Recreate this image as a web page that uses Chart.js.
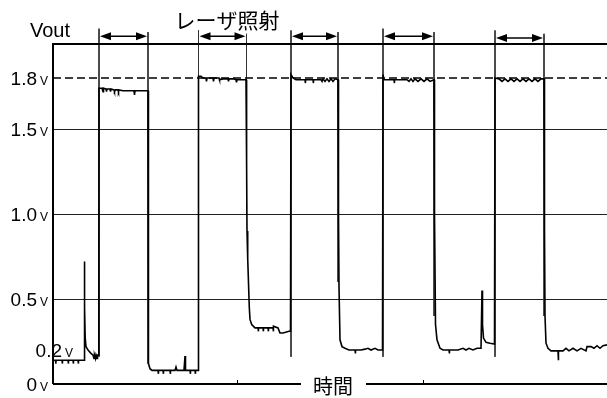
<!DOCTYPE html>
<html>
<head>
<meta charset="utf-8">
<script src="https://cdn.jsdelivr.net/npm/chart.js@4.4.0/dist/chart.umd.min.js"></script>
<style>
  html, body { margin: 0; padding: 0; background: #fff; }
  #wrap { width: 607px; height: 398px; }
</style>
</head>
<body>
<div id="wrap"><canvas id="voutChart"></canvas></div>
<script>
// Output voltage trace (time in arbitrary units, volts)
const waveTime = [
  0, 0.25, 0.28, 0.31, 0.9, 0.93, 0.96, 1.5, 1.53, 1.56, 2.0, 2.03, 2.06, 2.5, 2.53, 2.56, 3.1,
  3.13, 3.18, 3.22, 3.3, 3.5, 3.8, 4.0, 4.1, 4.15, 4.25, 4.3, 4.4, 4.45, 4.58,
  4.6, 4.9, 5.0, 5.05, 5.3, 5.35, 5.4, 5.7, 5.75, 5.8, 6.1, 6.15, 6.25, 6.5, 6.55, 6.6, 7.0, 8.1, 8.15, 8.2, 9.5,
  9.53, 9.56, 9.7, 9.9, 10.5, 10.53, 10.56, 11.0, 11.03, 11.06, 11.7, 11.73, 11.76, 12.2, 12.3, 12.4,
  13.1, 13.2, 13.25, 13.7, 13.73, 13.76, 14.2, 14.23, 14.26, 14.5,
  14.55, 14.8, 15.0, 15.3, 15.35, 15.4, 16.0, 16.05, 16.1, 16.6, 16.65, 17.0, 17.5, 17.55, 17.6, 18.0, 18.3, 18.35, 18.4, 19.3,
  19.35, 19.37, 19.4, 19.47, 19.63, 19.7, 19.87, 20.2, 20.5, 20.53, 20.56, 21.0, 21.03, 21.06, 21.5, 21.53, 21.56,
  22.0, 22.03, 22.06, 22.5, 22.7, 23.0, 23.6, 23.75,
  23.8, 24.0, 24.3, 25.2, 25.23, 25.26, 26.0, 26.03, 26.06, 26.8, 26.9, 27.0, 27.2, 27.4, 27.6, 27.8, 28.0, 28.2, 28.5,
  28.55, 28.6, 28.7, 28.9, 29.2, 29.6, 30.0, 30.2, 30.23, 30.26, 30.8, 31.2, 31.5, 31.8, 32.2, 32.5, 32.95,
  33.0, 33.1, 34.1, 34.13, 34.16, 35.4, 35.6, 35.8, 36.0, 36.2, 36.5, 36.8, 37.1, 37.4, 37.7, 38.1,
  38.15, 38.25, 38.4, 38.7, 39.0, 39.6, 39.63, 39.66, 40.5, 41.0, 41.3, 41.6, 42.0, 42.4, 42.8,
  42.85, 42.9, 42.95, 43.05, 43.3, 43.7, 44.15,
  44.2, 44.6, 44.9, 45.2, 45.5, 45.8, 46.1, 46.4, 46.7, 47.0, 47.3, 47.6, 47.9, 48.2, 48.5, 48.8, 49.1,
  49.15, 49.2, 49.3, 49.5, 49.8, 50.5, 50.53, 50.56, 51.0, 51.3, 51.6, 52.0, 52.4, 52.8, 53.3, 53.4,
  53.8, 54.1, 54.4, 54.7, 55.0, 55.4
];
const waveVolt = [
  0.14, 0.14, 0.12, 0.14, 0.14, 0.12, 0.14, 0.14, 0.12, 0.14, 0.14, 0.12, 0.14, 0.14, 0.12, 0.14, 0.14,
  0.72, 0.45, 0.27, 0.22, 0.2, 0.18, 0.17, 0.15, 0.17, 0.15, 0.17, 0.15, 0.17, 0.17,
  1.74, 1.74, 1.72, 1.74, 1.735, 1.72, 1.735, 1.735, 1.72, 1.735, 1.73, 1.72, 1.73, 1.73, 1.72, 1.73, 1.725, 1.725, 1.70, 1.725, 1.725,
  0.5, 0.12, 0.09, 0.08, 0.08, 0.06, 0.08, 0.08, 0.06, 0.08, 0.08, 0.06, 0.08, 0.08, 0.10, 0.08,
  0.08, 0.165, 0.08, 0.08, 0.06, 0.08, 0.08, 0.06, 0.08, 0.08,
  1.81, 1.81, 1.80, 1.80, 1.78, 1.80, 1.80, 1.78, 1.80, 1.80, 1.79, 1.795, 1.795, 1.78, 1.795, 1.795, 1.79, 1.775, 1.79, 1.79,
  1.5, 1.3, 0.9, 0.74, 0.45, 0.38, 0.35, 0.33, 0.33, 0.31, 0.33, 0.33, 0.31, 0.33, 0.33, 0.31, 0.33,
  0.33, 0.31, 0.34, 0.33, 0.30, 0.30, 0.31, 0.31,
  1.82, 1.80, 1.79, 1.79, 1.77, 1.79, 1.79, 1.77, 1.79, 1.79, 1.78, 1.795, 1.78, 1.795, 1.78, 1.795, 1.78, 1.795, 1.79,
  1.0, 0.57, 0.26, 0.22, 0.21, 0.2, 0.2, 0.2, 0.18, 0.2, 0.2, 0.205, 0.21, 0.2, 0.21, 0.2, 0.2,
  1.82, 1.79, 1.79, 1.77, 1.79, 1.79, 1.78, 1.795, 1.78, 1.795, 1.78, 1.795, 1.78, 1.795, 1.78, 1.79,
  1.0, 0.35, 0.26, 0.21, 0.2, 0.2, 0.18, 0.2, 0.2, 0.21, 0.2, 0.21, 0.2, 0.21, 0.21,
  0.21, 0.55, 0.35, 0.27, 0.245, 0.24, 0.235,
  1.80, 1.795, 1.78, 1.795, 1.78, 1.795, 1.78, 1.795, 1.78, 1.795, 1.78, 1.795, 1.78, 1.795, 1.78, 1.795, 1.795,
  0.9, 0.4, 0.24, 0.21, 0.195, 0.195, 0.14, 0.195, 0.195, 0.21, 0.195, 0.21, 0.195, 0.21, 0.195, 0.22,
  0.22, 0.21, 0.225, 0.21, 0.225, 0.23
];

// Laser on/off edges (vertical markers) and their extents
const markerTimes   = [4.6, 9.5, 14.55, 19.35, 23.8, 28.5, 33.0, 38.1, 44.2, 49.1];
const markerTops    = [2.09, 2.07, 2.08, 2.06, 2.08, 2.07, 2.09, 2.07, 2.08, 2.06];
const markerBottoms = [0.16, 0.12, 0.16, 1.0, 0.16, 0.6, 0.16, 0.4, 0.16, 0.4];
const arrowLevels   = [2.045, 2.045, 2.045, 2.045, 2.035];

const refVolt = 1.8;
const gridVolts = [0.5, 1.0, 1.5];
const yLabelValues = [1.8, 1.5, 1.0, 0.5, 0.2, 0];
const yLabelTexts = ['1.8', '1.5', '1.0', '0.5', '0.2', '0'];
const xMinorTicks = [18.4, 37.0];
const xMax = 55.4;
const yMax = 2.0;

const yTitle = 'Vout';
const laserTitle = 'レーザ照射';
const xTitle = '時間';

const waveData = waveTime.map((t, i) => ({ x: t, y: waveVolt[i] }));
const markerData = [];
markerTimes.forEach((t, i) => {
    markerData.push({ x: t, y: markerTops[i] }, { x: t, y: markerBottoms[i] }, { x: t, y: null });
});

const framePlugin = {
    id: 'frame',
    afterDraw(chart) {
        const { ctx, chartArea: a, scales: { x, y } } = chart;
        ctx.save();
        ctx.strokeStyle = '#000';
        ctx.fillStyle = '#000';

        // top border and left axis
        ctx.lineWidth = 2;
        ctx.beginPath();
        ctx.moveTo(a.right, a.top);
        ctx.lineTo(a.left, a.top);
        ctx.lineTo(a.left, a.bottom);
        ctx.stroke();

        // bottom axis broken by the title
        ctx.font = '20px "Noto Sans CJK JP"';
        const mid = (a.left + a.right) / 2 + 3;
        const w = ctx.measureText(xTitle).width;
        ctx.beginPath();
        ctx.moveTo(a.left, a.bottom);
        ctx.lineTo(mid - w / 2 - 12, a.bottom);
        ctx.moveTo(mid + w / 2 + 13, a.bottom);
        ctx.lineTo(a.right, a.bottom);
        ctx.stroke();
        ctx.textAlign = 'center';
        ctx.textBaseline = 'middle';
        ctx.fillText(xTitle, mid, a.bottom + 2);

        ctx.lineWidth = 1;
        xMinorTicks.forEach(t => {
            const px = Math.round(x.getPixelForValue(t)) + 0.5;
            ctx.beginPath();
            ctx.moveTo(px, a.bottom);
            ctx.lineTo(px, a.bottom - 4);
            ctx.stroke();
        });

        // titles
        ctx.font = '21px "Noto Sans CJK JP"';
        ctx.fillText(laserTitle, 227, 20);
        ctx.font = '20px "Liberation Sans"';
        ctx.textBaseline = 'alphabetic';
        ctx.fillText(yTitle, 50, 37);

        // y labels: number + small V
        yLabelValues.forEach((v, i) => {
            const py = y.getPixelForValue(v);
            const right = v === 0.2 ? a.left + 9 : a.left - 16;
            ctx.font = '19px "Liberation Sans"';
            ctx.textAlign = 'right';
            ctx.fillText(yLabelTexts[i], right, py + 7);
            ctx.font = '12px "Liberation Sans"';
            ctx.textAlign = 'left';
            ctx.fillText('V', right + 3, py + 7);
        });

        // double-headed arrows between marker pairs
        ctx.lineWidth = 1.5;
        arrowLevels.forEach((lv, i) => {
            const x1 = x.getPixelForValue(markerTimes[i * 2]) + 1;
            const x2 = x.getPixelForValue(markerTimes[i * 2 + 1]) - 1;
            const py = y.getPixelForValue(lv);
            ctx.beginPath();
            ctx.moveTo(x1 + 6, py);
            ctx.lineTo(x2 - 6, py);
            ctx.stroke();
            ctx.beginPath();
            ctx.moveTo(x1, py);
            ctx.lineTo(x1 + 11, py - 4);
            ctx.lineTo(x1 + 11, py + 4);
            ctx.closePath();
            ctx.moveTo(x2, py);
            ctx.lineTo(x2 - 11, py - 4);
            ctx.lineTo(x2 - 11, py + 4);
            ctx.closePath();
            ctx.fill();
        });
        ctx.restore();
    }
};

new Chart(document.getElementById('voutChart'), {
    type: 'line',
    data: {
        datasets: [
            {
                label: 'markers',
                data: markerData,
                borderColor: '#333',
                borderWidth: 1,
                pointRadius: 0,
                spanGaps: false,
                clip: false,
                order: 3
            },
            {
                label: '1.8V',
                data: [{ x: 0, y: refVolt }, { x: xMax, y: refVolt }],
                borderColor: '#000',
                borderWidth: 1.6,
                borderDash: [8, 4],
                pointRadius: 0,
                order: 2
            },
            {
                label: 'Vout',
                data: waveData,
                borderColor: '#000',
                borderWidth: 1.6,
                pointRadius: 0,
                tension: 0,
                order: 1
            }
        ]
    },
    options: {
        responsive: true,
        maintainAspectRatio: false,
        animation: false,
        layout: { padding: { left: 53, top: 44, right: 0, bottom: 14 } },
        plugins: {
            legend: { display: false },
            tooltip: { enabled: false }
        },
        scales: {
            x: {
                type: 'linear',
                min: 0,
                max: xMax,
                grid: { display: false, drawTicks: false },
                border: { display: false },
                ticks: { display: false }
            },
            y: {
                min: 0,
                max: yMax,
                afterBuildTicks: scale => {
                    scale.ticks = gridVolts.map(v => ({ value: v }));
                },
                grid: { color: '#222', lineWidth: 1, drawTicks: false },
                border: { display: false },
                ticks: { display: false }
            }
        }
    },
    plugins: [framePlugin]
});
</script>
</body>
</html>
